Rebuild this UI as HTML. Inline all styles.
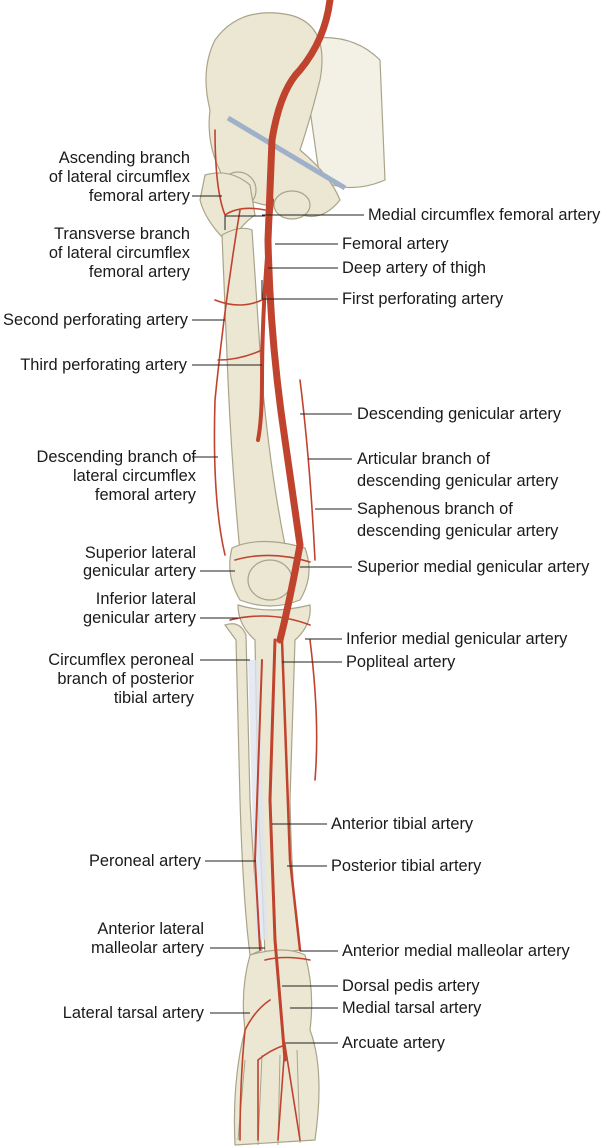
<!DOCTYPE html>
<html><head><meta charset="utf-8"><style>
html,body{margin:0;padding:0;background:#fff;}
svg{display:block;}
text{font-family:"Liberation Sans",Arial,sans-serif;font-size:16.4px;fill:#1a1a1a;}
.r{text-anchor:end;}
.l{stroke:#222;stroke-width:1;fill:none;}
.b{fill:#ebe7d3;stroke:#a9a489;stroke-width:1.2;}
.a{fill:none;stroke:#c0432e;stroke-linecap:round;}
</style></head><body>
<svg width="604" height="1148" viewBox="0 0 604 1148">
<path class="b" d="M300 40 Q350 30 380 60 L385 180 Q350 195 320 180 Z" fill-opacity=".6"/>
<path class="b" d="M215 40 Q240 5 290 15 Q330 25 320 80 Q310 120 300 150 Q330 175 340 200 Q320 225 295 212 Q280 195 265 205 Q240 200 228 185 Q205 150 210 110 Q200 70 215 40 Z"/>
<ellipse class="b" cx="292" cy="205" rx="18" ry="14"/>
<circle class="b" cx="238" cy="190" r="18"/>
<path class="b" d="M205 175 Q230 168 250 185 L255 215 Q240 225 230 245 L225 240 Q205 220 200 200 Z"/>
<path class="b" d="M222 235 Q240 225 252 230 L262 380 Q270 470 285 545 L240 552 Q232 470 228 380 Z"/>
<path class="b" d="M232 548 Q260 535 305 548 Q315 575 300 600 Q270 612 240 600 Q225 575 232 548 Z"/>
<ellipse class="b" cx="270" cy="580" rx="22" ry="20"/>
<path class="b" d="M238 605 Q270 615 310 605 Q312 625 295 640 L290 800 Q292 900 300 950 L265 955 Q262 880 258 800 L255 640 Q238 625 238 605 Z"/>
<path class="b" d="M225 625 Q240 620 246 635 L250 800 Q255 900 262 950 L250 955 Q243 900 240 800 L236 640 Z"/>
<path d="M248 660 L258 660 L268 940 L256 940 Z" fill="#dfe3ee" opacity=".8"/>
<path class="b" d="M250 955 Q285 945 305 955 Q315 990 310 1030 Q325 1070 315 1140 L235 1145 Q232 1080 245 1030 Q240 990 250 955 Z"/>
<g stroke="#a9a489" stroke-width="1">
<line x1="245" y1="1060" x2="238" y2="1140"/><line x1="262" y1="1055" x2="258" y2="1145"/><line x1="280" y1="1055" x2="278" y2="1145"/><line x1="297" y1="1050" x2="300" y2="1143"/>
</g>
<line x1="228" y1="118" x2="345" y2="188" stroke="#9fb0c8" stroke-width="5"/>
<path class="a" stroke-width="7" d="M330 0 Q325 40 300 70 Q280 90 272 140 L268 240 Q270 340 285 440 Q295 510 300 545 Q290 600 280 640"/>
<path class="a" stroke-width="4" d="M272 200 Q262 300 262 380 Q262 420 258 440"/>
<path class="a" stroke-width="3" d="M275 640 L270 800 L275 940 L280 1000 L285 1060"/>
<path class="a" stroke-width="2.5" d="M282 640 L290 860 L300 950"/>
<path class="a" stroke-width="2" d="M262 660 L255 860 L260 950"/>
<g class="a" stroke-width="1.6">
<path d="M265 210 Q240 205 225 215 Q215 190 215 130"/>
<path d="M240 210 Q225 300 215 400 Q212 500 225 555"/>
<path d="M262 300 Q240 310 215 300"/>
<path d="M262 350 Q240 360 218 360"/>
<path d="M300 380 Q310 460 315 560"/>
<path d="M235 560 Q270 550 310 562"/>
<path d="M230 620 Q270 610 310 625"/>
<path d="M310 640 Q320 720 315 780"/>
<path d="M265 960 Q285 955 310 960"/>
<path d="M270 1000 Q255 1010 245 1030 Q240 1080 240 1140"/>
<path d="M285 1045 Q270 1050 258 1060 L258 1140"/>
<path d="M285 1045 L278 1140"/><path d="M285 1045 L300 1140"/>
</g>
<g class="l">
<line x1="192" y1="196" x2="222" y2="196"/>
<line x1="225" y1="216" x2="265" y2="216"/><line x1="225" y1="216" x2="225" y2="230"/>
<line x1="192" y1="320" x2="225" y2="320"/>
<line x1="192" y1="365" x2="262" y2="365"/>
<line x1="192" y1="457" x2="218" y2="457"/>
<line x1="200" y1="571" x2="235" y2="571"/>
<line x1="200" y1="618" x2="238" y2="618"/>
<line x1="200" y1="660" x2="250" y2="660"/>
<line x1="205" y1="861" x2="256" y2="861"/>
<line x1="210" y1="948" x2="265" y2="948"/>
<line x1="210" y1="1013" x2="250" y2="1013"/>
<line x1="262" y1="215" x2="364" y2="215"/>
<line x1="275" y1="244" x2="338" y2="244"/>
<line x1="268" y1="268" x2="338" y2="268"/>
<line x1="262" y1="280" x2="262" y2="299"/><line x1="262" y1="299" x2="338" y2="299"/>
<line x1="300" y1="414" x2="352" y2="414"/>
<line x1="308" y1="459" x2="352" y2="459"/>
<line x1="315" y1="509" x2="352" y2="509"/>
<line x1="300" y1="567" x2="352" y2="567"/>
<line x1="305" y1="639" x2="342" y2="639"/>
<line x1="282" y1="662" x2="342" y2="662"/>
<line x1="272" y1="824" x2="327" y2="824"/>
<line x1="287" y1="866" x2="327" y2="866"/>
<line x1="300" y1="951" x2="338" y2="951"/>
<line x1="282" y1="986" x2="338" y2="986"/>
<line x1="290" y1="1008" x2="338" y2="1008"/>
<line x1="285" y1="1043" x2="338" y2="1043"/>
</g>
<g class="r">
<text x="190" y="163">Ascending branch</text>
<text x="190" y="182">of lateral circumflex</text>
<text x="190" y="201">femoral artery</text>
<text x="190" y="239">Transverse branch</text>
<text x="190" y="258">of lateral circumflex</text>
<text x="190" y="277">femoral artery</text>
<text x="188" y="325">Second perforating artery</text>
<text x="187" y="370">Third perforating artery</text>
<text x="196" y="462">Descending branch of</text>
<text x="196" y="481">lateral circumflex</text>
<text x="196" y="500">femoral artery</text>
<text x="196" y="558">Superior lateral</text>
<text x="196" y="576">genicular artery</text>
<text x="196" y="604">Inferior lateral</text>
<text x="196" y="623">genicular artery</text>
<text x="194" y="665">Circumflex peroneal</text>
<text x="194" y="684">branch of posterior</text>
<text x="194" y="703">tibial artery</text>
<text x="201" y="866">Peroneal artery</text>
<text x="204" y="934">Anterior lateral</text>
<text x="204" y="953">malleolar artery</text>
<text x="204" y="1018">Lateral tarsal artery</text>
</g>
<text x="368" y="220">Medial circumflex femoral artery</text>
<text x="342" y="249">Femoral artery</text>
<text x="342" y="273">Deep artery of thigh</text>
<text x="342" y="304">First perforating artery</text>
<text x="357" y="419">Descending genicular artery</text>
<text x="357" y="464">Articular branch of</text>
<text x="357" y="486">descending genicular artery</text>
<text x="357" y="514">Saphenous branch of</text>
<text x="357" y="536">descending genicular artery</text>
<text x="357" y="572">Superior medial genicular artery</text>
<text x="346" y="644">Inferior medial genicular artery</text>
<text x="346" y="667">Popliteal artery</text>
<text x="331" y="829">Anterior tibial artery</text>
<text x="331" y="871">Posterior tibial artery</text>
<text x="342" y="956">Anterior medial malleolar artery</text>
<text x="342" y="991">Dorsal pedis artery</text>
<text x="342" y="1013">Medial tarsal artery</text>
<text x="342" y="1048">Arcuate artery</text>
</svg>
</body></html>
